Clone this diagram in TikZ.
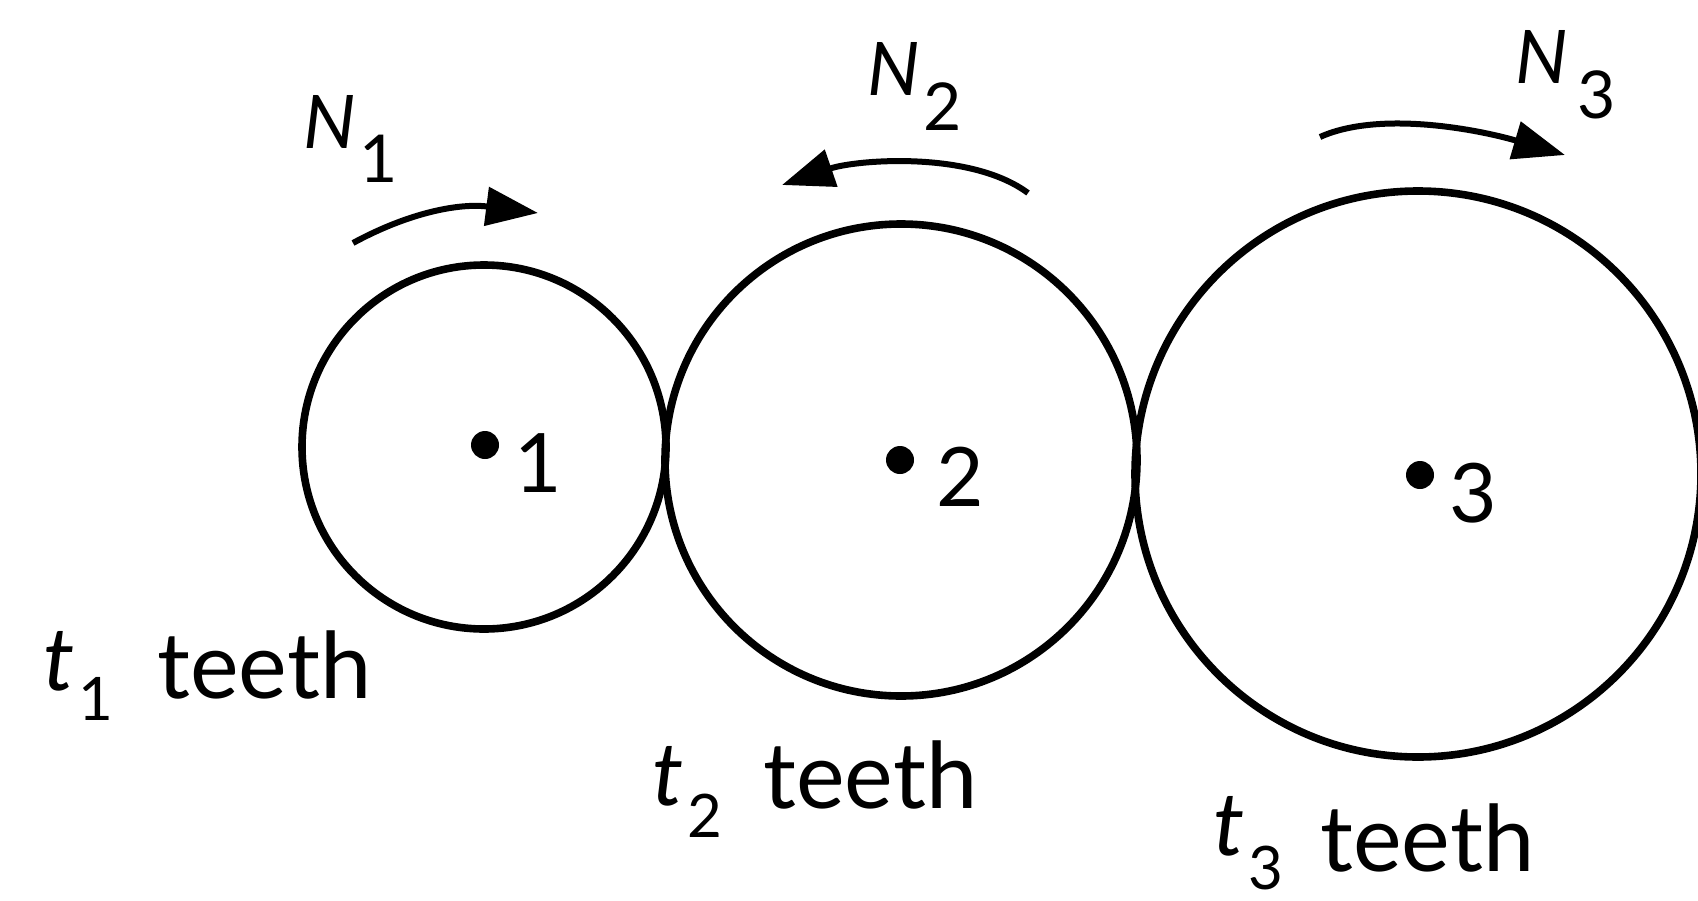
\documentclass[tikz,border=0pt]{standalone}
\usepackage{fontspec}
\setmainfont{Lato}
\usetikzlibrary{arrows.meta}
\begin{document}
\begin{tikzpicture}[x=0.5pt,y=-0.5pt,
  gear/.style={circle,draw,line width=3.8pt,inner sep=0pt,outer sep=0pt},
  hub/.style={circle,fill,minimum size=14pt,inner sep=0pt},
  num/.style={inner sep=0pt,font=\fontsize{41}{41}\selectfont},
  spin/.style={line width=3pt,-{Triangle[length=26pt,width=19pt]}},
  speed/.style={inner sep=0pt,anchor=base west,font=\fontsize{37}{37}\selectfont\itshape},
  var/.style={inner sep=0pt,anchor=base west,font=\fontsize{44}{44}\selectfont\itshape},
  word/.style={inner sep=0pt,anchor=base west,font=\fontsize{46}{46}\selectfont}]
\useasboundingbox (0,0) rectangle (1698,900);
% gears
\node[gear,minimum size=182pt] (g1) at (484,447) {};
\node[gear,minimum size=236pt] (g2) at (901,460) {};
\node[gear,minimum size=283pt] (g3) at (1418,474) {};
% hubs and numbers
\node[hub] (c1) at (485,445) {};
\node[hub] (c2) at (900,460) {};
\node[hub] (c3) at (1420,475) {};
\node[num] (k1) at (538,463) {1};
\node[num] (k2) at (960,477) {2};
\node[num] (k3) at (1473,493) {3};
% rotation arrows
\coordinate (a1s) at (353,243); \coordinate (a1e) at (538,213);
\coordinate (a2s) at (1028,193); \coordinate (a2e) at (782,185);
\coordinate (a3s) at (1320,137); \coordinate (a3e) at (1565,155);
\draw[spin] (a1s) .. controls (410,212) and (460,203) .. (a1e);
\draw[spin] (a2s) .. controls (970,150) and (855,160) .. (a2e);
\draw[spin] (a3s) .. controls (1380,110) and (1480,130) .. (a3e);
% speed labels
\node[speed] (n1) at (303,148) {N\kern2pt\raisebox{-17pt}{\upshape\fontsize{33}{33}\selectfont 1}};
\node[speed] (n2) at (867,95) {N\kern2pt\raisebox{-17.5pt}{\upshape\fontsize{33}{33}\selectfont 2}};
\node[speed] (n3) at (1515,83) {N\kern5pt\raisebox{-17.5pt}{\upshape\fontsize{33}{33}\selectfont 3}};
% teeth labels
\node[var] (t1) at (43,690) {t\kern2pt\raisebox{-15pt}{\upshape\fontsize{30}{30}\selectfont 1}};
\node[word] (w1) at (157,698) {teeth};
\node[var] (t2) at (652,805) {t\kern2pt\raisebox{-16pt}{\upshape\fontsize{30}{30}\selectfont 2}};
\node[word] (w2) at (763,808) {teeth};
\node[var] (t3) at (1213,855) {t\kern2pt\raisebox{-17pt}{\upshape\fontsize{30}{30}\selectfont 3}};
\node[word] (w3) at (1320,871) {teeth};
\end{tikzpicture}
\end{document}
